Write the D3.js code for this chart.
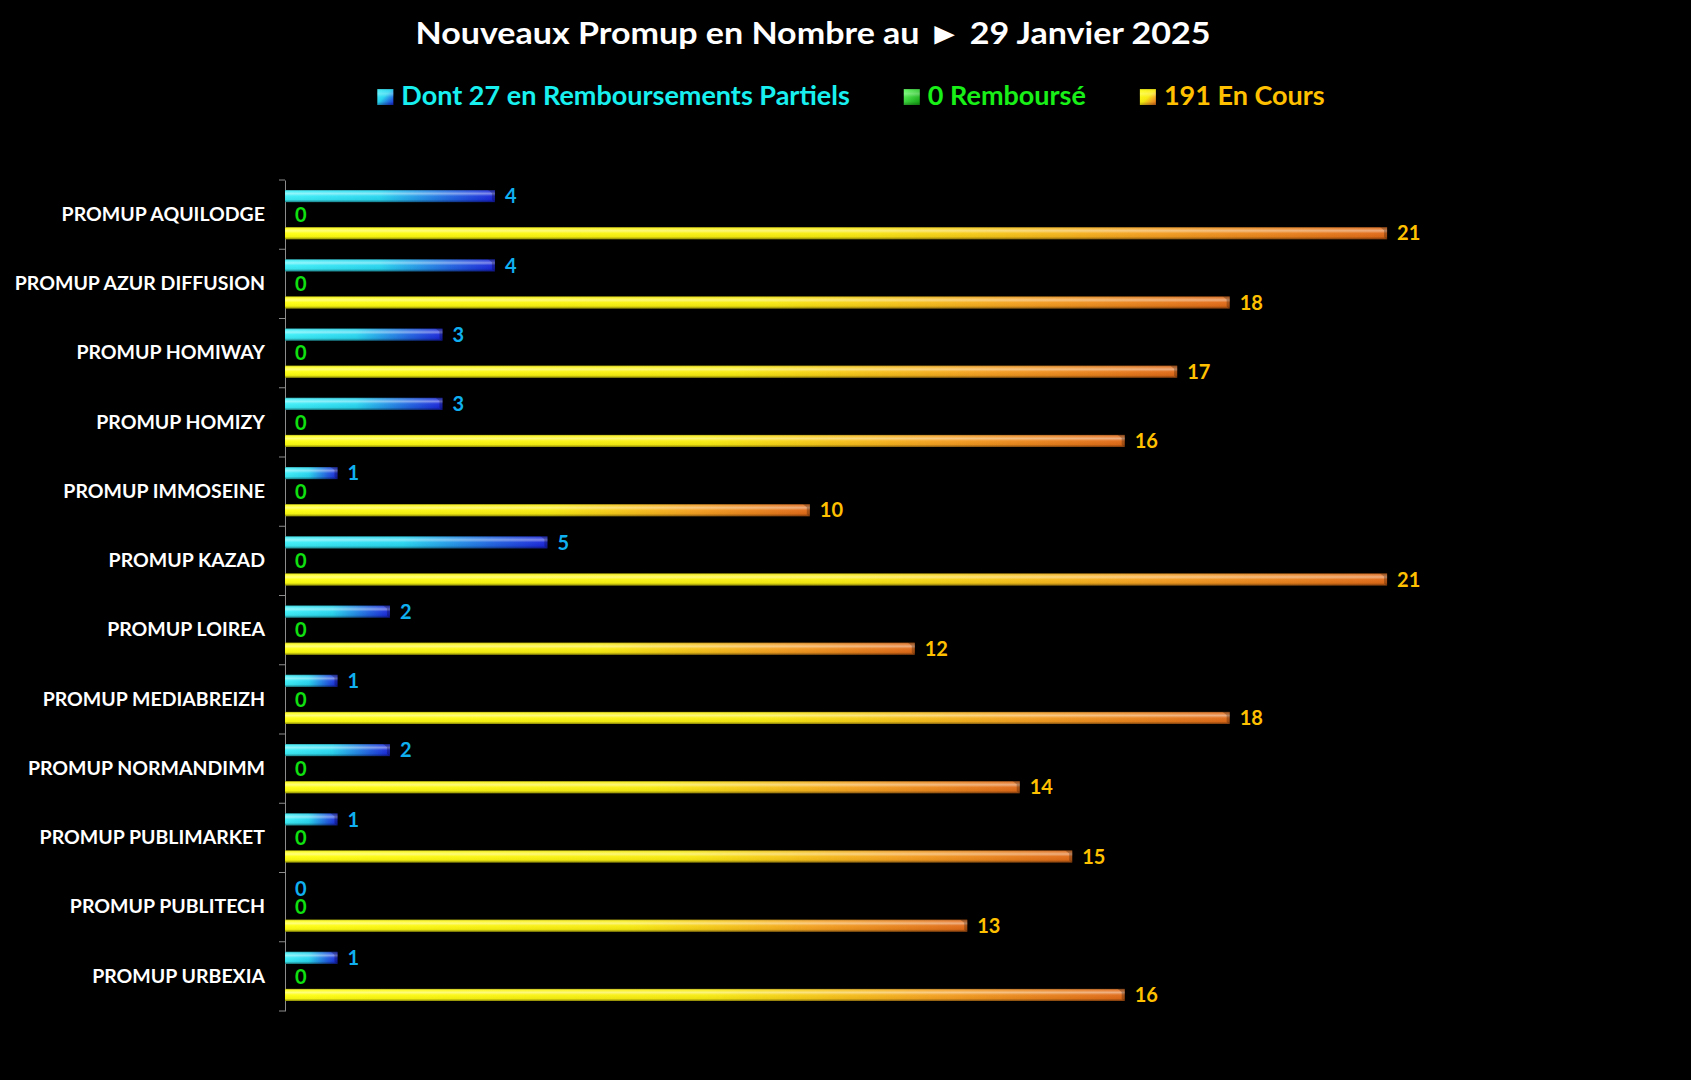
<!DOCTYPE html>
<html>
<head>
<meta charset="utf-8">
<script src="https://cdn.jsdelivr.net/npm/d3@7"></script>
<style>
    html, body { margin: 0; padding: 0; background: #000; }
    svg { display: block; font-family: Lato, "Open Sans", sans-serif; font-weight: bold; }
</style>
</head>
<body>
<script>
// data
const categories = [
    'PROMUP AQUILODGE', 'PROMUP AZUR DIFFUSION', 'PROMUP HOMIWAY', 'PROMUP HOMIZY',
    'PROMUP IMMOSEINE', 'PROMUP KAZAD', 'PROMUP LOIREA', 'PROMUP MEDIABREIZH',
    'PROMUP NORMANDIMM', 'PROMUP PUBLIMARKET', 'PROMUP PUBLITECH', 'PROMUP URBEXIA'
];
const partiels = [4, 4, 3, 3, 1, 5, 2, 1, 2, 1, 0, 1];
const rembourses = [0, 0, 0, 0, 0, 0, 0, 0, 0, 0, 0, 0];
const enCours = [21, 18, 17, 16, 10, 21, 12, 18, 14, 15, 13, 16];
const seriesKeys = ['partiels', 'rembourses', 'enCours'];
const seriesNames = ['Dont 27 en Remboursements Partiels', '0 Remboursé', '191 En Cours'];
const titleText = 'Nouveaux Promup en Nombre au \u25BA 29 Janvier 2025';

const values = { partiels, rembourses, enCours };

// look
const gradStops = {
    partiels: [['0%', '#3ef0f8'], ['45%', '#28d6f0'], ['80%', '#2060e0'], ['100%', '#1a24d8']],
    rembourses: [['0%', '#60ff60'], ['100%', '#10a010']],
    enCours: [['0%', '#ffff10'], ['50%', '#f8ec10'], ['78%', '#f4a020'], ['100%', '#e06a18']]
};
const labelColors = { partiels: '#10b0f0', rembourses: '#10e010', enCours: '#ffc000' };
const legendColors = { partiels: '#18f0f0', rembourses: '#18f018', enCours: '#ffc000' };

const width = 1691;
const height = 1080;

const svg = d3.select('body').append('svg')
    .attr('width', width)
    .attr('height', height);

svg.append('rect').attr('width', width).attr('height', height).attr('fill', '#000');

const defs = svg.append('defs');
seriesKeys.forEach(key => {
    const g = defs.append('linearGradient').attr('id', 'grad-' + key)
        .attr('x1', 0).attr('y1', 0).attr('x2', 1).attr('y2', 0);
    gradStops[key].forEach(s => g.append('stop').attr('offset', s[0]).attr('stop-color', s[1]));

    const m = defs.append('linearGradient').attr('id', 'mark-' + key)
        .attr('x1', 0).attr('y1', 0).attr('x2', 1).attr('y2', 1);
    gradStops[key].forEach(s => m.append('stop').attr('offset', s[0]).attr('stop-color', s[1]));
});

// vertical shine for the bevelled look
const shine = defs.append('linearGradient').attr('id', 'shine')
    .attr('x1', 0).attr('y1', 0).attr('x2', 0).attr('y2', 1);
[['0%', '#000', 0.35], ['12%', '#fff', 0.15], ['30%', '#fff', 0.45], ['50%', '#fff', 0.05],
 ['80%', '#000', 0.05], ['100%', '#000', 0.45]].forEach(s =>
    shine.append('stop').attr('offset', s[0]).attr('stop-color', s[1]).attr('stop-opacity', s[2]));

// scales
const x = d3.scaleLinear().domain([0, 25]).range([285, 1597]);
const y = d3.scaleBand().domain(categories).range([180, 1011]).padding(0);
const inner = d3.scaleBand().domain(seriesKeys).range([0, y.bandwidth()])
    .paddingInner(0.35).paddingOuter(0.54);

// title
svg.append('text')
    .attr('x', 813).attr('y', 44)
    .attr('text-anchor', 'middle')
    .attr('fill', '#fff')
    .attr('font-size', 31)
    .attr('textLength', 795)
    .attr('lengthAdjust', 'spacingAndGlyphs')
    .text(titleText);

// legend, laid out left to right then centred
const legend = svg.append('g');
let lx = 0;
seriesKeys.forEach((key, i) => {
    const item = legend.append('g').attr('transform', `translate(${lx},0)`);
    item.append('rect').attr('x', 0).attr('y', -16).attr('width', 16).attr('height', 16)
        .attr('fill', `url(#mark-${key})`);
    item.append('rect').attr('x', 0).attr('y', -16).attr('width', 16).attr('height', 16)
        .attr('fill', 'url(#shine)').attr('opacity', 0.6);
    const t = item.append('text').attr('x', 24).attr('y', 0)
        .attr('fill', legendColors[key])
        .attr('font-size', 27)
        .text(seriesNames[i]);
    lx += 24 + t.node().getComputedTextLength() + 54;
});
lx -= 54;
legend.attr('transform', `translate(${851 - lx / 2},105)`);

// axis with category labels
const axis = svg.append('g')
    .attr('transform', `translate(${x(0)},0)`)
    .call(d3.axisLeft(y).tickSize(0).tickPadding(20));
axis.select('.domain').attr('stroke', '#8c8c8c').attr('stroke-width', 1);
axis.selectAll('text')
    .attr('fill', '#fff')
    .attr('font-size', 19.5)
    .attr('font-family', 'Lato, sans-serif')
    .attr('font-weight', 'bold');

// boundary ticks between categories
const bounds = categories.map(c => y(c)).concat([y.range()[1]]);
svg.append('g').selectAll('line').data(bounds).join('line')
    .attr('x1', x(0) - 6).attr('x2', x(0))
    .attr('y1', d => d).attr('y2', d => d)
    .attr('stroke', '#8c8c8c').attr('stroke-width', 1);

// bars
const rows = categories.map((c, i) => ({
    cat: c,
    items: seriesKeys.map(key => ({ key, value: values[key][i] }))
}));

const groups = svg.append('g').selectAll('g').data(rows).join('g')
    .attr('transform', d => `translate(0,${y(d.cat)})`);

const bars = groups.selectAll('g.bar').data(d => d.items.filter(e => e.value > 0)).join('g')
    .attr('class', 'bar')
    .attr('transform', d => `translate(${x(0)},${inner(d.key)})`);

const bh = inner.bandwidth();
bars.append('rect')
    .attr('width', d => x(d.value) - x(0))
    .attr('height', bh)
    .attr('fill', d => `url(#grad-${d.key})`);
bars.append('rect')
    .attr('width', d => x(d.value) - x(0))
    .attr('height', bh)
    .attr('fill', 'url(#shine)');
// bevelled right end
bars.append('polygon')
    .attr('points', d => {
        const w = x(d.value) - x(0);
        return `${w - 7},0 ${w},0 ${w},${bh} ${w - 3},${bh - 2} ${w - 3},3`;
    })
    .attr('fill', '#000').attr('opacity', 0.25);

// value labels
groups.selectAll('text.val').data(d => d.items).join('text')
    .attr('class', 'val')
    .attr('x', d => x(d.value) + 10)
    .attr('y', d => inner(d.key) + bh / 2)
    .attr('dy', '0.36em')
    .attr('fill', d => labelColors[d.key])
    .attr('font-size', 20)
    .text(d => d.value);
</script>
</body>
</html>
